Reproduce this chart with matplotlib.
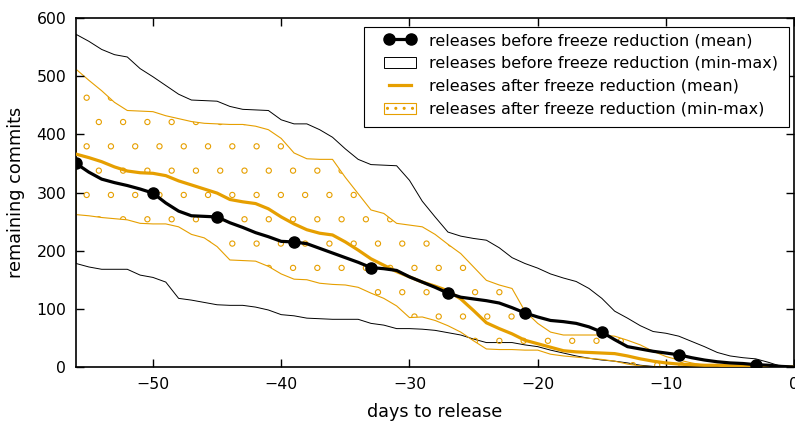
import numpy as np
import matplotlib
matplotlib.use("Agg")
import matplotlib.pyplot as plt
from matplotlib.patches import Patch, Rectangle
from matplotlib.lines import Line2D

days = np.arange(-56, 1)

before_max = [572, 560, 546, 537, 533, 513, 499, 484, 469, 459, 458, 457, 448, 443, 442,
              441, 425, 418, 418, 408, 395, 375, 357, 348, 347, 346, 321, 285, 258, 232,
              225, 221, 218, 205, 188, 178, 170, 160, 153, 147, 135, 118, 96, 84, 71,
              61, 58, 53, 44, 35, 25, 19, 16, 14, 8, 1, 0]
before_min = [178, 172, 168, 168, 168, 158, 154, 146, 118, 115, 111, 107, 106, 106, 103,
              98, 90, 88, 84, 83, 82, 82, 82, 75, 72, 66, 66, 65, 63, 59,
              55, 48, 42, 42, 42, 38, 35, 29, 24, 19, 15, 12, 10, 7, 3,
              1, 0, 0, 0, 0, 0, 0, 0, 0, 0, 0, 0]
before_mean = [350, 335, 323, 317, 312, 306, 299, 282, 268, 260, 259, 258, 248, 240, 231,
               224, 216, 215, 212, 204, 196, 188, 180, 171, 169, 166, 155, 146, 137, 127,
               120, 117, 114, 110, 102, 93, 86, 80, 78, 75, 69, 60, 47, 35, 31,
               27, 24, 21, 16, 12, 9, 7, 6, 4, 3, 1, 0]
after_max = [512, 493, 475, 455, 441, 440, 439, 432, 427, 422, 419, 418, 417, 417, 414,
             408, 393, 368, 358, 357, 357, 326, 298, 270, 264, 247, 244, 241, 228, 211,
             195, 172, 149, 141, 135, 96, 75, 60, 55, 55, 55, 55, 53, 46, 38,
             27, 18, 12, 7, 3, 1, 0, 0, 0, 0, 0, 0]
after_min = [262, 260, 257, 255, 253, 247, 246, 246, 241, 228, 222, 207, 184, 183, 182,
             173, 160, 151, 150, 144, 142, 141, 137, 127, 118, 105, 85, 86, 80, 71,
             60, 45, 31, 30, 30, 29, 29, 22, 19, 17, 15, 13, 10, 5, 2,
             0, 0, 0, 0, 0, 0, 0, 0, 0, 0, 0, 0]
after_mean = [366, 360, 353, 344, 337, 334, 333, 329, 320, 313, 306, 299, 288, 284, 281,
              272, 258, 246, 236, 230, 227, 215, 201, 186, 175, 164, 155, 146, 139, 131,
              117, 97, 76, 66, 57, 46, 40, 34, 28, 26, 25, 24, 23, 19, 14,
              10, 7, 5, 4, 3, 3, 2, 2, 1, 1, 0, 0]
# days that carry a marker on the "before" mean line
marker_days = [-56, -50, -45, -39, -33, -27, -21, -15, -9, -3]

orange = "#e69f00"
plt.rcParams['font.family'] = 'DejaVu Sans'

fig = plt.figure(figsize=(7.95, 4.23), dpi=100)
ax = fig.add_axes([0.0956, 0.1324, 0.9034, 0.825])

# min-max envelopes
ax.fill_between(days, before_min, before_max, facecolor='none', edgecolor='black', linewidth=0.7)
env = ax.fill_between(days, after_min, after_max, facecolor='none', edgecolor=orange, linewidth=0.8)

# sparse circle hatch, clipped to the orange envelope
gx, gy = [], []
for j, yrow in enumerate(np.arange(463, 0, -41.8)):
    x0 = -55.17 if j % 2 == 0 else -54.22
    for xc in np.arange(x0, 0, 1.893):
        gx.append(xc)
        gy.append(yrow)
sc = ax.scatter(gx, gy, s=14, facecolors='none', edgecolors=orange, linewidths=0.8, zorder=2)
sc.set_clip_path(env.get_paths()[0], transform=ax.transData)

ax.plot(days, after_mean, color=orange, linewidth=2.3, zorder=3)
idx = [list(days).index(d) for d in marker_days]
ax.plot(days, before_mean, color='black', linewidth=2.3, marker='o', markersize=8,
        markevery=idx, zorder=4)

ax.set_xlim(-56, 0)
ax.set_ylim(0, 600)
ax.set_xticks(np.arange(-50, 1, 10))
ax.set_yticks(np.arange(0, 601, 100))
ax.tick_params(direction='in', length=5.5, width=1, top=True, right=True, labelsize=11.3, pad=7)
for s in ax.spines.values():
    s.set_linewidth(1.2)
ax.set_xlabel('days to release', fontsize=12.7, labelpad=8)
ax.set_ylabel('remaining commits', fontsize=12.7, labelpad=8)

handles = [
    Line2D([], [], color='black', linewidth=2.3, marker='o', markersize=8),
    Patch(facecolor='white', edgecolor='black', linewidth=0.7),
    Line2D([], [], color=orange, linewidth=2.3),
    Patch(facecolor='white', edgecolor=orange, linewidth=0.8, hatch='..'),
]
labels = ['releases before freeze reduction (mean)',
          'releases before freeze reduction (min-max)',
          'releases after freeze reduction (mean)',
          'releases after freeze reduction (min-max)']

# legend frame drawn separately to get the wider left margin of the original
frame = Rectangle((364 / 795, 1 - 127 / 423), 425 / 795, 100 / 423, transform=fig.transFigure,
                  facecolor='white', edgecolor='black', linewidth=0.8, zorder=4.9)
ax.add_patch(frame)
frame.set_clip_on(False)
leg = ax.legend(handles, labels, loc='upper left', bbox_to_anchor=(384 / 795, 1 - 33 / 423),
                bbox_transform=fig.transFigure, fontsize=11.5, numpoints=2, frameon=False,
                borderaxespad=0, borderpad=0, labelspacing=0.5, handletextpad=0.8)
leg.set_zorder(5)

fig.savefig('out.png', dpi=100)
